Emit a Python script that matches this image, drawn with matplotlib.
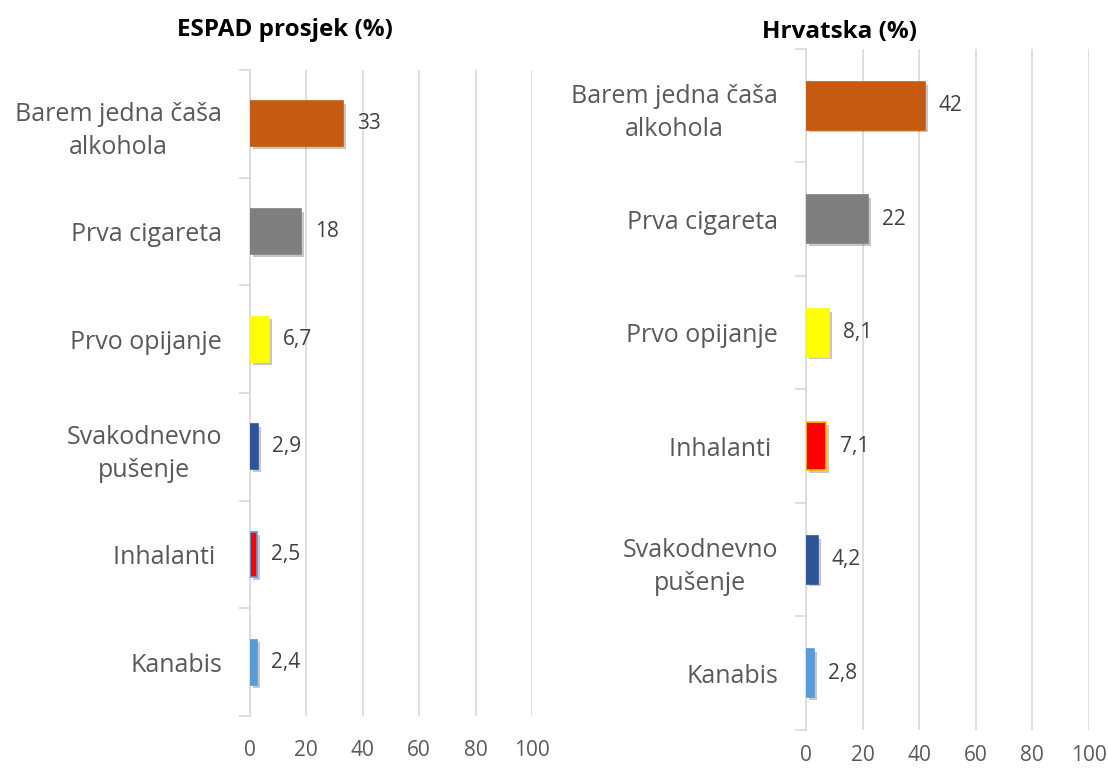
import matplotlib.pyplot as plt
import matplotlib.patheffects as pe
import numpy as np

plt.rcParams['font.family'] = ['Open Sans', 'DejaVu Sans']

# ESPAD average (%)
espad_labels = ['Barem jedna čaša\nalkohola', 'Prva cigareta', 'Prvo opijanje',
                'Svakodnevno\npušenje', 'Inhalanti ', 'Kanabis']
espad_values = [33, 18, 6.7, 2.9, 2.5, 2.4]
espad_colors = ['#C55A11', '#7F7F7F', '#FFFF00', '#2F5597', '#FF0000', '#5B9BD5']
espad_edges = ['#C55A11', '#7F7F7F', '#FFFF00', '#2F5597', '#5B9BD5', '#5B9BD5']

# Croatia (%)
hr_labels = ['Barem jedna čaša\nalkohola', 'Prva cigareta', 'Prvo opijanje',
             'Inhalanti ', 'Svakodnevno\npušenje', 'Kanabis']
hr_values = [42, 22, 8.1, 7.1, 4.2, 2.8]
hr_colors = ['#C55A11', '#7F7F7F', '#FFFF00', '#FF0000', '#2F5597', '#5B9BD5']
hr_edges = ['#C55A11', '#7F7F7F', '#FFFF00', '#FFC000', '#2F5597', '#5B9BD5']

xticks = [0, 20, 40, 60, 80, 100]

fig = plt.figure(figsize=(11.08, 7.71), dpi=100)
ax1 = fig.add_axes([0.2256, 0.0713, 0.2545, 0.838])
ax2 = fig.add_axes([0.7274, 0.0532, 0.2554, 0.8833])

shadow = [pe.SimplePatchShadow(offset=(2, -2), shadow_rgbFace='k', alpha=0.22), pe.Normal()]


def draw(ax, labels, values, colors, edges, xpad):
    y = np.arange(len(labels))
    bars = ax.barh(y, values, height=0.42, color=colors, edgecolor=edges, linewidth=1.2, zorder=3)
    for b in bars:
        b.set_path_effects(shadow)
    for yi, v in zip(y, values):
        txt = ('%g' % v).replace('.', ',')
        ax.annotate(txt, (v, yi), xytext=(10, 0), textcoords='offset points',
                    va='center', ha='left', fontsize=15, color='#404040')
    ax.set_ylim(len(labels) - 0.5, -0.5)
    ax.set_xlim(0, 100)
    ax.set_xticks(xticks)
    ax.set_xticklabels([str(t) for t in xticks])
    ax.set_yticks(y)
    ax.set_yticklabels(labels, multialignment='center', linespacing=1.45)
    ax.set_yticks(np.arange(len(labels) + 1) - 0.5, minor=True)
    ax.tick_params(axis='y', which='major', length=0, pad=20, labelsize=18, labelcolor='#595959')
    ax.tick_params(axis='y', which='minor', length=8, color='#D9D9D9', width=1.2)
    ax.tick_params(axis='x', length=0, pad=xpad, labelsize=15, labelcolor='#595959')
    ax.grid(axis='x', color='#D9D9D9', linewidth=1.2, zorder=0)
    for s in ['top', 'right', 'bottom']:
        ax.spines[s].set_visible(False)
    ax.spines['left'].set_color('#D9D9D9')
    ax.spines['left'].set_linewidth(1.2)


draw(ax1, espad_labels, espad_values, espad_colors, espad_edges, 17)
draw(ax2, hr_labels, hr_values, hr_colors, hr_edges, 11)

fig.text(0.257, 0.961, 'ESPAD prosjek (%)', ha='center', va='center', fontsize=17.5, fontweight='bold')
fig.text(0.758, 0.958, 'Hrvatska (%)', ha='center', va='center', fontsize=17.5, fontweight='bold')

fig.savefig('out.png', dpi=100)
